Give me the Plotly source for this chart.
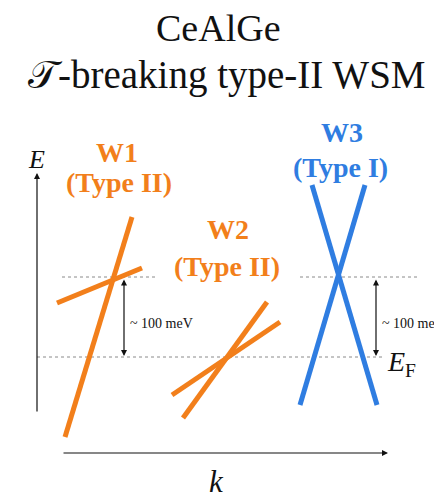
import plotly.graph_objects as go

# Schematic drawn in pixel space of the 434x499 canvas (y grows downward)
ORANGE = '#F27F1B'
BLUE = '#2F7DE1'
INK = '#111111'
SERIF = 'Liberation Serif, Times New Roman, serif'

# band lines: (x0, y0, x1, y1)
w1_steep = [65, 437, 132, 217]
w1_flat = [57, 303, 142, 268]
w2_a = [172, 395, 280, 322]
w2_b = [183, 418, 267, 302]
w3_a = [312, 185, 377, 405]
w3_b = [365, 185, 300, 405]

# reference levels
node_level = 277
fermi_level = 357
node_segments = [[62, 155], [300, 417]]
fermi_segment = [37, 385]

# energy gap arrows (x positions) and labels
gap_arrows_x = [124, 376]
gap_text = '~ 100 meV'

fig = go.Figure()

# dotted reference lines
for seg in node_segments:
    fig.add_trace(go.Scatter(x=seg, y=[node_level, node_level], mode='lines',
                             line=dict(color='#8a8a8a', width=1, dash='dot'),
                             hoverinfo='skip', showlegend=False))
fig.add_trace(go.Scatter(x=fermi_segment, y=[fermi_level, fermi_level], mode='lines',
                         line=dict(color='#8a8a8a', width=1, dash='dot'),
                         hoverinfo='skip', showlegend=False))

for seg, col in [(w1_steep, ORANGE), (w1_flat, ORANGE), (w2_a, ORANGE),
                 (w2_b, ORANGE), (w3_a, BLUE), (w3_b, BLUE)]:
    fig.add_trace(go.Scatter(x=[seg[0], seg[2]], y=[seg[1], seg[3]], mode='lines',
                             line=dict(color=col, width=5),
                             hoverinfo='skip', showlegend=False))

# axes arrows
fig.add_annotation(x=37, y=173, ax=37, ay=413, xref='x', yref='y', axref='x', ayref='y',
                   showarrow=True, arrowhead=2, arrowsize=1, arrowwidth=1.2,
                   arrowcolor=INK, text='')
fig.add_annotation(x=388, y=453, ax=62, ay=453, xref='x', yref='y', axref='x', ayref='y',
                   showarrow=True, arrowhead=2, arrowsize=1, arrowwidth=1.2,
                   arrowcolor=INK, text='')

# gap arrows
for gx in gap_arrows_x:
    fig.add_annotation(x=gx, y=fermi_level - 1, ax=gx, ay=node_level + 1,
                       xref='x', yref='y', axref='x', ayref='y',
                       showarrow=True, arrowhead=2, arrowside='end+start',
                       arrowsize=1, arrowwidth=1.2, arrowcolor=INK, text='')
    fig.add_annotation(x=gx + 4, y=323, xref='x', yref='y', text=gap_text,
                       showarrow=False, xanchor='left',
                       font=dict(family=SERIF, size=14, color=INK))

# titles
fig.add_annotation(x=218, y=28, xref='x', yref='y', text='CeAlGe', showarrow=False,
                   font=dict(family=SERIF, size=38, color=INK))
fig.add_annotation(x=227, y=75, xref='x', yref='y', text='𝒯-breaking type-II WSM',
                   showarrow=False, font=dict(family=SERIF, size=39, color=INK))

# weyl node labels
labels = [('W1', 117, 152, ORANGE), ('(Type II)', 119, 182, ORANGE),
          ('W2', 228, 229, ORANGE), ('(Type II)', 227, 266, ORANGE),
          ('W3', 342, 132, BLUE), ('(Type I)', 340, 167, BLUE)]
for txt, lx, ly, col in labels:
    fig.add_annotation(x=lx, y=ly, xref='x', yref='y', text='<b>%s</b>' % txt,
                       showarrow=False, font=dict(family=SERIF, size=28, color=col))

# axis letters
fig.add_annotation(x=36, y=159, xref='x', yref='y', text='<i>E</i>', showarrow=False,
                   font=dict(family=SERIF, size=26, color=INK))
fig.add_annotation(x=216, y=481, xref='x', yref='y', text='<i>k</i>', showarrow=False,
                   font=dict(family=SERIF, size=31, color=INK))
fig.add_annotation(x=385, y=363, xref='x', yref='y', xanchor='left',
                   text='<i>E</i><sub>F</sub>', showarrow=False,
                   font=dict(family=SERIF, size=28, color=INK))

fig.update_layout(
    width=434, height=499,
    margin=dict(l=0, r=0, t=0, b=0),
    paper_bgcolor='white', plot_bgcolor='white',
    xaxis=dict(range=[0, 434], visible=False, fixedrange=True),
    yaxis=dict(range=[499, 0], visible=False, fixedrange=True),
    showlegend=False,
)

# drop the default page margin so canvas pixels line up with the window
fig.write_html("out.html", config={'displayModeBar': False},
               post_script="document.body.style.margin='0';")
